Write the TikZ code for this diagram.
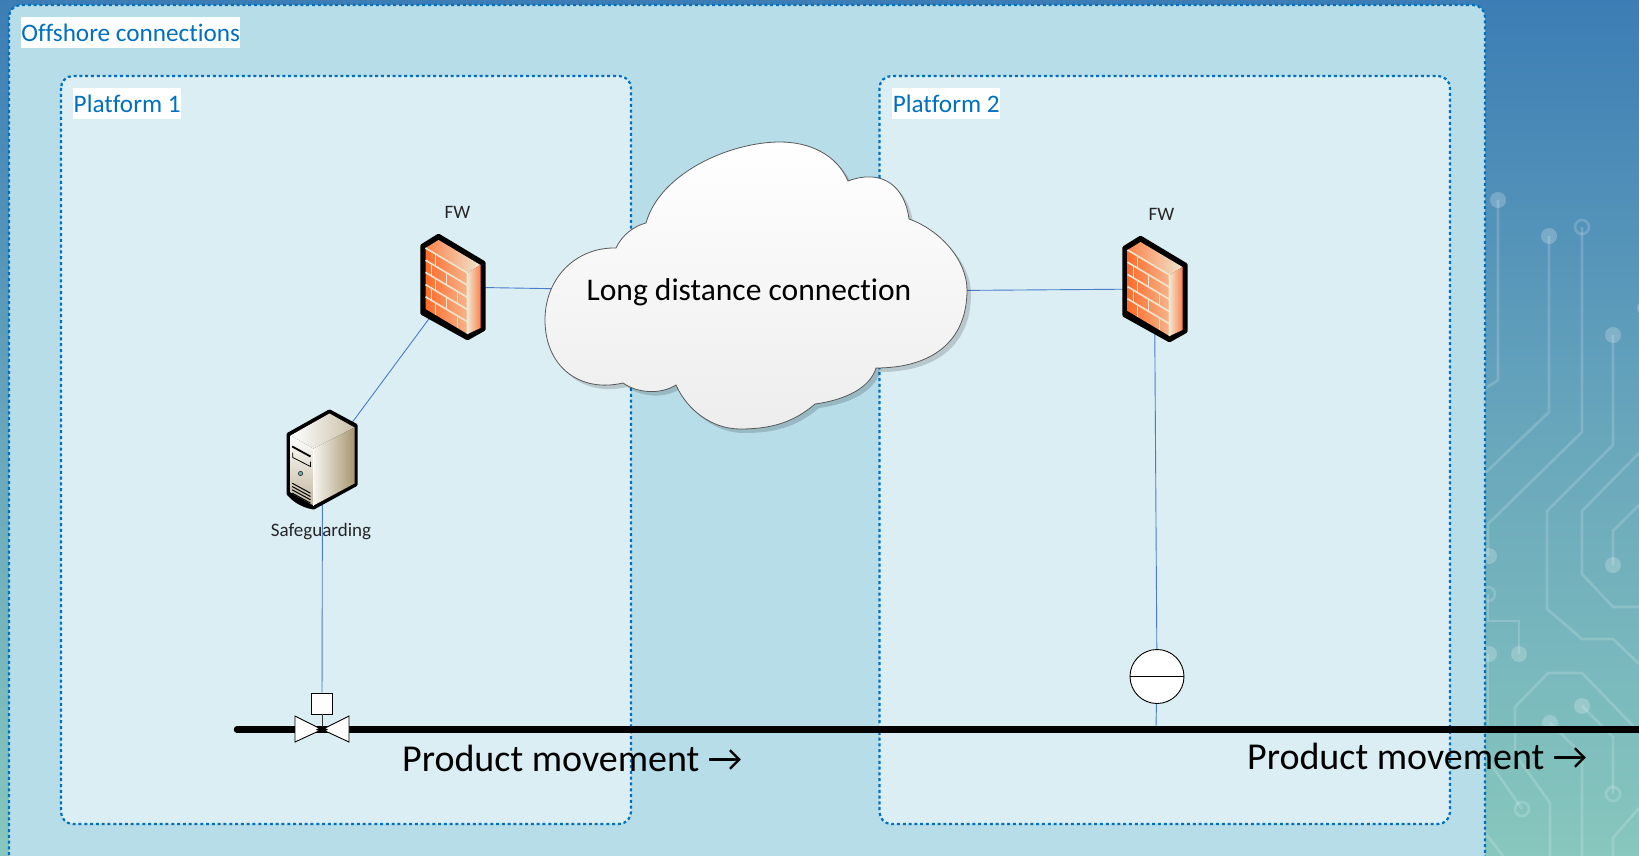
\documentclass[tikz,border=0pt]{standalone}
\usepackage{fontspec}
\setmainfont[Ligatures=NoCommon]{Carlito}
\usetikzlibrary{positioning}
\pgfdeclarelayer{boxes}
\pgfdeclarelayer{wires}
\pgfsetlayers{boxes,wires,main}
\definecolor{bgtop}{HTML}{3C7DB5}
\definecolor{bgmid}{HTML}{68A6BC}
\definecolor{bgbot}{HTML}{87C7BD}
\definecolor{outerfill}{HTML}{B6DDE8}
\definecolor{innerfill}{HTML}{DBEEF4}
\definecolor{boxblue}{HTML}{0070C0}
\definecolor{wireblue}{HTML}{4A7CC8}
\definecolor{brickline}{HTML}{EEE6CF}
\definecolor{brickdark}{HTML}{FF6B2A}
\definecolor{bricklight}{HTML}{F7B48C}
\definecolor{servertan}{HTML}{A8966F}
\newcommand{\cloudpath}{(616,248) .. controls (622,235) and (634,226) .. (646,223)
  .. controls (660,173) and (730,142) .. (780,142)
  .. controls (810,142) and (837,155) .. (848,181)
  .. controls (883,168) and (905,187) .. (909,219)
  .. controls (940,230) and (967,260) .. (967,290)
  .. controls (967,343) and (930,368) .. (876,368)
  .. controls (870,388) and (845,400) .. (815,404)
  .. controls (793,423) and (770,429) .. (740,429)
  .. controls (712,429) and (687,410) .. (676,385)
  .. controls (660,395) and (637,393) .. (623,383)
  .. controls (580,393) and (545,367) .. (545,320)
  .. controls (545,277) and (577,247) .. (616,248) -- cycle}
\tikzset{
  firewall/.pic={
    \fill[line join=round,draw=black,line width=4.4] (-14,-51) -- (31,-24) -- (31,42) -- (15,51)
      -- (-30,26) -- (-30,-41) -- cycle;
    \shade[left color=brickdark,right color=bricklight] (-27,-39) -- (15,-14) -- (15,47) -- (-27,22) -- cycle;
    \shade[left color=brickdark!85!white,right color=brickline] (-27,-39) -- (-14,-47) -- (28,-22) -- (15,-14) -- cycle;
    \shade[left color=brickline,right color=brickdark!85!white] (15,-14) -- (28,-22) -- (28,41) -- (15,47) -- cycle;
    \begin{scope}[shift={(-27,-39)},x={(42pt,-25pt)},y={(0pt,-61pt)},draw=brickline,line width=1.6]
      \draw (0,0) -- (1,0) -- (1,1);
      \foreach \v in {.2,.4,.6,.8}
        \draw (0,\v) -- (1,\v);
      \draw (.24,0) -- (.24,.2);
      \draw (.5,.2) -- (.5,.4) (.14,.2) -- (.14,.4);
      \draw (.76,.4) -- (.76,.6) (.24,.4) -- (.24,.6);
      \draw (.5,.6) -- (.5,.8) (.14,.6) -- (.14,.8);
      \draw (.76,.8) -- (.76,1) (.24,.8) -- (.24,1);
    \end{scope}
  },
  serverbox/.pic={
    \fill[line join=round,draw=black,line width=4] (7,-51) -- (33,-37) -- (33,22) -- (-9,45)
      .. controls (-20,43) and (-28,38) .. (-34,31) -- (-34,-28) -- cycle;
    \shade[left color=white,right color=servertan!60!white] (-32,-27) -- (7,-49) -- (32,-35) -- (-9,-14) -- cycle;
    \shade[left color=white!90!servertan,right color=servertan] (-9,-14) -- (32,-35) -- (32,21) -- (-9,43) -- cycle;
    \shade[top color=white,bottom color=servertan!70!white] (-32,-27) -- (-9,-14) -- (-9,43) -- (-32,30) -- cycle;
    \draw[white,line width=1] (-9,-14) -- (-9,43);
    \draw[black,line width=1.8] (-30.3,-16) -- (-12,-6);
    \draw[black,line width=.8] (-29.7,-10) -- (-29.7,-5) -- (-12,4) -- (-12,-1);
    \fill[teal!60!white,draw=black,line width=.4] (-22,11) circle (2.2);
    \foreach \k in {0,3.3,6.6,9.9}
      \draw[black,line width=1] (-30.3,20.7+\k) -- (-12,30.7+\k);
  }
}

\begin{document}
\begin{tikzpicture}[x=1pt,y=-1pt,
  outerbox/.style={draw=boxblue,fill=outerfill,line width=2.2,rounded corners=12,dash pattern=on 3pt off 2.8pt},
  innerbox/.style={outerbox,fill=innerfill},
  boxtitle/.style={fill=white,text=boxblue,font=\fontsize{25.2}{25.2}\selectfont,inner sep=0pt,anchor=west,
    minimum height=31,align=center},
  iconanchor/.style={inner sep=0pt,minimum size=1},
  smalllabel/.style={font=\fontsize{19}{19}\selectfont,text=black!85},
  biglabel/.style={font=\fontsize{38}{38}\selectfont,anchor=west,inner sep=0pt},
  wire/.style={draw=wireblue,line width=.9},
  pipe/.style={line width=6.5,line cap=round},
  trace/.style={draw=white,draw opacity=.17,line width=2.7},
  spot/.style={fill=white,fill opacity=.22}]
  \useasboundingbox (0,0) rectangle (1639,856);

  % background and its circuit lines
  \begin{pgfonlayer}{boxes}
    \shade[top color=bgtop,bottom color=bgbot,middle color=bgmid] (0,0) rectangle (1639,856);
    \draw[trace] (1498,200) -- (1498,380) -- (1480,392);
    \draw[trace] (1549,236) -- (1549,412) -- (1480,478);
    \draw[trace] (1582,227) -- (1582,432) -- (1488,524) -- (1488,556);
    \draw[trace] (1613,335) -- (1613,445) -- (1547,511) -- (1547,609) -- (1582,639) -- (1613,639) -- (1639,664);
    \draw[trace] (1639,453) -- (1582,511) -- (1582,574) -- (1613,607) -- (1639,607);
    \draw[trace] (1639,505) -- (1613,531) -- (1613,565);
    \draw[trace] (1488,594) -- (1488,621) -- (1519,621) -- (1519,654);
    \draw[trace] (1488,654) -- (1488,725);
    \draw[trace] (1515,754) -- (1515,707) -- (1548,673) -- (1582,673) -- (1639,732);
    \draw[trace] (1582,706) -- (1613,737) -- (1613,794);
    \draw[trace] (1515,754) -- (1550,803) -- (1550,856);
    \draw[trace] (1488,760) -- (1522,809);
    \draw[trace] (1550,723) -- (1582,754) -- (1582,856);
    \draw[trace] (1639,808) -- (1613,838) -- (1613,856);
    \draw[trace] (1480,826) -- (1503,856);
    \foreach \px/\py in {1498/200,1549/236,1613/335,1645/308,1489/556,1613/565,1489/654,1519/654,1582/706,1550/723}
      \fill[spot] (\px,\py) circle (8);
    \foreach \px/\py in {1582/227,1488/594,1613/794,1522/809}
      \draw[trace] (\px,\py) circle (7);

    \draw[outerbox] (9,5) rectangle (1485,868);
    \draw[innerbox] (61,76) rectangle (631,824);
    \draw[innerbox] (879.5,76) rectangle (1450,824);
  \end{pgfonlayer}

  \node[boxtitle,minimum width=219] (offshore) at (21,32.5) {Offshore connections};
  \node[boxtitle,minimum width=108] (platform1) at (73,103.5) {Platform 1};
  \node[boxtitle,minimum width=108] (platform2) at (892,103.5) {Platform 2};

  \fill[black,opacity=.16,xshift=4,yshift=-4] \cloudpath;
  \shadedraw[top color=white,bottom color=black!7,draw=black!65,line width=.8] \cloudpath;
  \node[font=\fontsize{31.5}{31.5}\selectfont] (cloud) at (749,292) {Long distance connection};

  \node[iconanchor] (fw1) at (452.5,287) {};
  \node[iconanchor] (fw2) at (1154.5,289) {};
  \node[iconanchor] (safeguard) at (322.5,462.5) {};
  \node[draw=black,fill=white,line width=.9,minimum size=21,inner sep=0pt] (actuator) at (322,703.5) {};
  \node[draw=black,fill=white,circle,line width=.9,minimum size=54,inner sep=0pt] (instrument) at (1157,676.5) {};
  \coordinate (pipestart) at (237,729.5);
  \coordinate (pipeend) at (1645,729.5);
  \coordinate (tap) at (1156,727);
  \coordinate (valve) at (322,729.5);

  \begin{pgfonlayer}{wires}
    \draw[wire] (fw1) -- (cloud);
    \draw[wire] (cloud) -- (fw2);
    \draw[wire] (fw1) -- (safeguard);
    \draw[wire] (safeguard) -- (actuator);
    \draw[wire] (fw2) -- (instrument);
    \draw[wire] (instrument) -- (tap);
  \end{pgfonlayer}

  \draw[pipe] (pipestart) -- (pipeend);
  \draw[line width=1,black!80] (actuator) -- (valve);
  \draw[fill=white,line width=.9] (295,716) -- (322,729.5) -- (295,742) -- cycle;
  \draw[fill=white,line width=.9] (349,716) -- (322,729.5) -- (349,742) -- cycle;
  \fill (316,729.5) -- (322,726.5) -- (328,729.5) -- (322,732.5) -- cycle;
  \draw[line width=1.4] (instrument.west) -- (instrument.east);

  \pic at (fw1) {firewall};
  \pic at (fw2) {firewall};
  \pic at (safeguard) {serverbox};

  \node[smalllabel] (fw1label) at (457.5,212.5) {FW};
  \node[smalllabel] (fw2label) at (1161.5,214.5) {FW};
  \node[smalllabel] (safelabel) at (321,532) {Safeguarding};
  \node[biglabel] (move1) at (402,758) {Product movement →};
  \node[biglabel] (move2) at (1247,756) {Product movement →};
\end{tikzpicture}
\end{document}
